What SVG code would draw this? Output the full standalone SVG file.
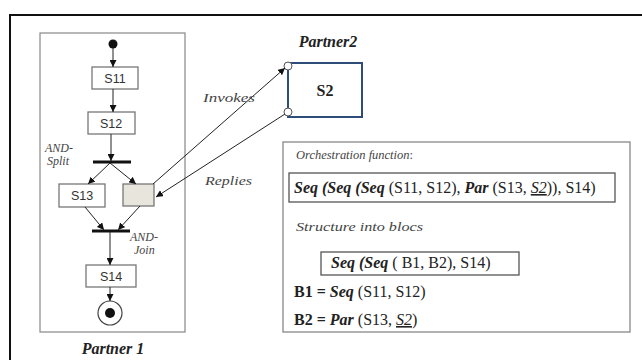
<svg xmlns="http://www.w3.org/2000/svg" width="642" height="360" viewBox="0 0 642 360">
<defs>
<marker id="ah" viewBox="0 0 10 10" refX="10" refY="5" markerWidth="7" markerHeight="7" orient="auto" markerUnits="userSpaceOnUse">
<path d="M0,0 L10,5 L0,10 z" fill="#111"/>
</marker>
<style>
.box{fill:#fff;stroke:#777;stroke-width:1.3}
.st{font-family:"Liberation Sans",Arial,sans-serif;font-size:12.5px;fill:#333;text-anchor:middle}
.ln{stroke:#222;stroke-width:1;fill:none}
.lab{font-family:"Liberation Serif","Times New Roman",serif;font-style:italic;fill:#444;font-size:12px}
.ser{font-family:"Liberation Serif","Times New Roman",serif;fill:#222;font-size:16px}
.bi{font-weight:bold;font-style:italic}
.bar{stroke:#111;stroke-width:3}
</style>
</defs>
<rect width="642" height="360" fill="#fff"/>
<path d="M10,360 L10,15 L642,15" fill="none" stroke="#111" stroke-width="2"/>

<g id="partner1">
<rect x="40" y="33" width="145" height="299" fill="none" stroke="#888" stroke-width="1.2"/>
<text x="113" y="354" class="ser bi" font-size="15" text-anchor="middle">Partner 1</text>
</g>
<g id="start"><circle cx="113" cy="44" r="4.5" fill="#111"/></g>
<g id="S11"><rect class="box" x="92" y="67" width="46" height="22"/><text class="st" x="115" y="83">S11</text></g>
<g id="S12"><rect class="box" x="88" y="112" width="47" height="22"/><text class="st" x="111" y="128">S12</text></g>
<g id="andsplit"><line class="bar" x1="93" y1="162" x2="131" y2="162"/>
<text class="lab" x="45" y="152">AND-</text><text class="lab" x="47" y="165">Split</text></g>
<g id="S13"><rect class="box" x="59" y="184" width="46" height="23"/><text class="st" x="82" y="200">S13</text></g>
<g id="invoke"><rect x="123" y="184" width="31" height="22" fill="#e8e6dc" stroke="#777" stroke-width="1.3"/></g>
<g id="andjoin"><line class="bar" x1="92" y1="231" x2="130" y2="231"/>
<text class="lab" x="130" y="241">AND-</text><text class="lab" x="134" y="254">Join</text></g>
<g id="S14"><rect class="box" x="86" y="265" width="50" height="22"/><text class="st" x="111" y="281">S14</text></g>
<g id="end"><circle cx="110" cy="313" r="12" fill="#fff" stroke="#444" stroke-width="1.2"/><circle cx="110" cy="313" r="5" fill="#111"/></g>

<g id="partner2">
<text x="328" y="47" class="ser bi" font-size="14.5" text-anchor="middle">Partner2</text>
<rect x="288" y="63" width="74" height="54" fill="#fff" stroke="#2e4d7b" stroke-width="2"/>
<text x="325" y="96" class="ser" font-weight="bold" font-size="18" text-anchor="middle">S2</text>
<circle cx="288" cy="66" r="4" fill="#fff" stroke="#555"/>
<circle cx="288" cy="112" r="4" fill="#fff" stroke="#555"/>
</g>

<g id="connectors">
<line class="ln" x1="113" y1="48" x2="113" y2="67" marker-end="url(#ah)"/>
<line class="ln" x1="113" y1="89" x2="113" y2="112" marker-end="url(#ah)"/>
<line class="ln" x1="111" y1="134" x2="111" y2="161" marker-end="url(#ah)"/>
<line class="ln" x1="110" y1="163" x2="88" y2="184" marker-end="url(#ah)"/>
<line class="ln" x1="110" y1="163" x2="136" y2="184" marker-end="url(#ah)"/>
<line class="ln" x1="85" y1="207" x2="104" y2="230" marker-end="url(#ah)"/>
<line class="ln" x1="140" y1="206" x2="118" y2="230" marker-end="url(#ah)"/>
<line class="ln" x1="110" y1="232" x2="110" y2="265" marker-end="url(#ah)"/>
<line class="ln" x1="110" y1="287" x2="110" y2="301" marker-end="url(#ah)"/>
<line class="ln" x1="153" y1="184" x2="285" y2="68" marker-end="url(#ah)"/>
<line class="ln" x1="285" y1="114" x2="156" y2="197" marker-end="url(#ah)"/>
<text class="lab" x="203" y="102" font-size="15" textLength="52" lengthAdjust="spacingAndGlyphs">Invokes</text>
<text class="lab" x="205" y="185" font-size="15" textLength="47" lengthAdjust="spacingAndGlyphs">Replies</text>
</g>

<g id="orchestration">
<rect x="283" y="142" width="347" height="190" fill="#fff" stroke="#888" stroke-width="1.3"/>
<text class="lab" x="296" y="159" font-size="15" fill="#333" textLength="117" lengthAdjust="spacingAndGlyphs">Orchestration function<tspan font-style="normal">:</tspan></text>
<rect x="289" y="173" width="326" height="29" fill="#fff" stroke="#555" stroke-width="1.3"/>
<text class="ser" x="294" y="193"><tspan class="bi">Seq (Seq (Seq </tspan>(S11, S12), <tspan class="bi">Par </tspan>(S13, <tspan font-style="italic" text-decoration="underline">S2</tspan>)), S14)</text>
<text class="lab" x="296" y="231" font-size="15" fill="#333" textLength="127" lengthAdjust="spacingAndGlyphs">Structure into blocs</text>
<rect x="321" y="252" width="198" height="23" fill="#fff" stroke="#555" stroke-width="1.3"/>
<text class="ser" x="331" y="268"><tspan class="bi">Seq (Seq </tspan>( B1, B2), S14)</text>
<text class="ser" x="294" y="297"><tspan font-weight="bold">B1 = </tspan><tspan class="bi">Seq </tspan>(S11, S12)</text>
<text class="ser" x="294" y="325"><tspan font-weight="bold">B2 = </tspan><tspan class="bi">Par </tspan>(S13, <tspan font-style="italic" text-decoration="underline">S2</tspan>)</text>
</g>
</svg>
